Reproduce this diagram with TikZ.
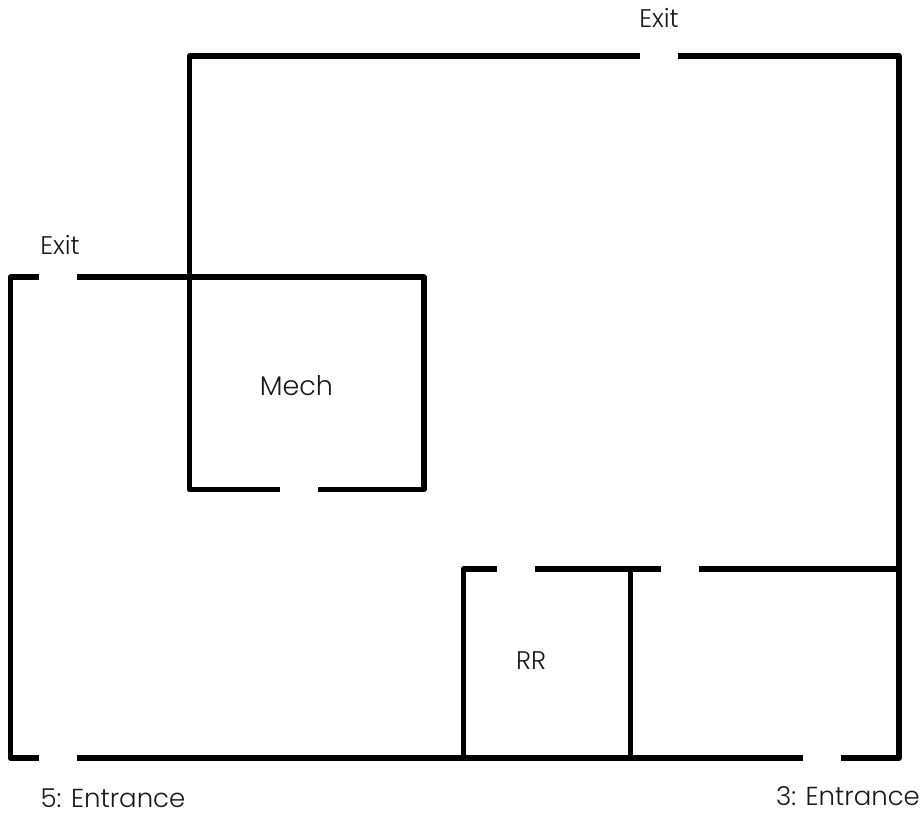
\documentclass[tikz,border=0pt]{standalone}
\usepackage{fontspec}
\setmainfont{Poppins Light}
\tikzset{
  wall/.style={line width=5.6pt,line join=round,line cap=butt,black},
  lbl/.style={inner sep=0pt,anchor=center,text=black!90,font=\fontsize{26}{28}\selectfont},
  lblsmall/.style={lbl,font=\fontsize{25.5}{28}\selectfont}
}
\begin{document}
\begin{tikzpicture}[x=1pt,y=-1pt]
\useasboundingbox (0,0) rectangle (924,813);
% outer wall
\draw[wall] (39,277) -- (10.5,277) -- (10.5,758) -- (39,758);
\draw[wall] (77,758) -- (803,758);
\draw[wall] (841,758) -- (899,758) -- (899,56) -- (678,56);
\draw[wall] (640,56) -- (189.5,56) -- (189.5,489.5) -- (280,489.5);
\draw[wall] (77,277) -- (424,277) -- (424,489.5) -- (318,489.5);
% restroom block
\draw[wall] (497,569) -- (463.5,569) -- (463.5,758);
\draw[wall] (535,569) -- (661,569);
\draw[wall] (699,569) -- (899,569);
\draw[wall] (630.5,569) -- (630.5,758);
% labels
\node[lblsmall] (exitT) at (659,18) {Exit};
\node[lblsmall] (exitL) at (60,245) {Exit};
\node[lbl,font=\fontsize{27}{30}\selectfont] (mech) at (296.5,386) {Mech};
\node[lblsmall] (rr) at (531,661) {RR};
\node[lbl] (ent5) at (113,798.5) {5: Entrance};
\node[lbl] (ent3) at (848,796.5) {3: Entrance};
\end{tikzpicture}
\end{document}
